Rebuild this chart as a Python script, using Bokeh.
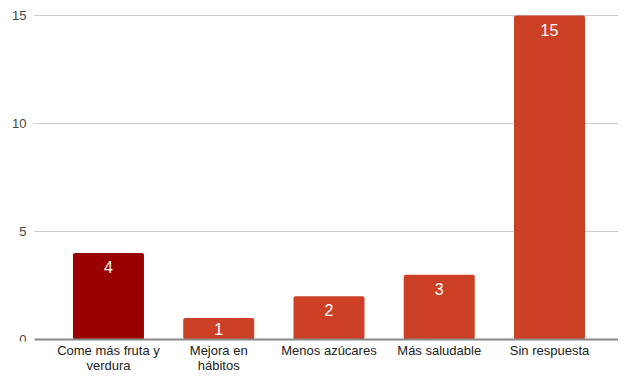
from bokeh.plotting import figure
from bokeh.models import ColumnDataSource, FixedTicker, Range1d
from bokeh.core.properties import value
from bokeh.embed import file_html
from bokeh.resources import INLINE

categories = ["Come más fruta y\nverdura", "Mejora en\nhábitos", "Menos azúcares", "Más saludable", "Sin respuesta"]
counts = [4, 1, 2, 3, 15]
colors = ["#990000", "#cc4125", "#cc4125", "#cc4125", "#cc4125"]
y_ticks = [0, 5, 10, 15]

FONT = "Liberation Sans"
W, H = 618, 375
AXIS_H = 35                 # approx height taken by the x-axis labels
FRAME_H = H - AXIS_H
TOP_PAD, BOT_PAD = 15, 2    # px between frame edges and the 15 / 0 lines
LEFT_PAD = 34               # px left of the category area for y labels
Y_MAX = 15
X_START, X_END = -0.671, 4.626
DIGIT_W = 13 * 0.556        # digit advance of Liberation Sans at 13px

px_y = (FRAME_H - TOP_PAD - BOT_PAD) / Y_MAX
px_x = (W - LEFT_PAD) / (X_END - X_START)

xs = list(range(len(categories)))
offsets = [min(14, px_y * c / 2) for c in counts]
src = ColumnDataSource(dict(x=xs, top=counts, color=colors, label=[str(c) for c in counts], off=offsets))

grid_y = [t for t in y_ticks if t != 0]
gsrc = ColumnDataSource(dict(x0=[X_START] * len(grid_y), x1=[X_END] * len(grid_y), y=grid_y))
ylab = [str(t) for t in y_ticks]
ysrc = ColumnDataSource(dict(x=[X_START] * len(y_ticks), y=y_ticks, label=ylab,
                             xo=[-8 - DIGIT_W * len(s) for s in ylab]))

p = figure(width=W, height=H, output_backend="svg", toolbar_location=None,
           x_range=Range1d(X_START - LEFT_PAD / px_x, X_END),
           y_range=Range1d(-BOT_PAD / px_y, Y_MAX + TOP_PAD / px_y),
           min_border_left=0, min_border_right=0, min_border_top=0, min_border_bottom=0)
p.outline_line_color = None
p.background_fill_color = "white"
p.border_fill_color = "white"
p.xgrid.grid_line_color = None
p.ygrid.grid_line_color = None
p.yaxis.visible = False

# gridlines
p.segment(x0="x0", y0="y", x1="x1", y1="y", source=gsrc, line_color="#cccccc", line_width=1)

# bars
p.vbar(x="x", top="top", width=0.644, bottom=0, color="color", line_color=None, border_radius=2, source=src)
p.text(x="x", y="top", text="label", source=src, text_color="white", text_align="center",
       text_baseline="middle", y_offset="off", text_font=value(FONT), text_font_size="16px")

# baseline
p.segment(x0=[X_START], y0=[y_ticks[0]], x1=[X_END], y1=[y_ticks[0]], line_color="#888888", line_width=2)

# y tick labels
p.text(x="x", y="y", text="label", source=ysrc, x_offset="xo", text_align="left",
       text_baseline="middle", text_font=value(FONT), text_font_size="13px", text_color="#444444")

p.xaxis.ticker = FixedTicker(ticks=xs)
p.xaxis.major_label_overrides = {i: c for i, c in enumerate(categories)}
p.xaxis.major_tick_line_color = None
p.xaxis.minor_tick_line_color = None
p.xaxis.major_tick_out = 0
p.xaxis.axis_line_color = None
p.xaxis.major_label_text_font = FONT
p.xaxis.major_label_text_font_size = "13px"
p.xaxis.major_label_text_color = "#222222"
p.xaxis.major_label_text_line_height = 1.0
p.xaxis.major_label_standoff = 1

open("out.html", "w").write(file_html(p, INLINE))
